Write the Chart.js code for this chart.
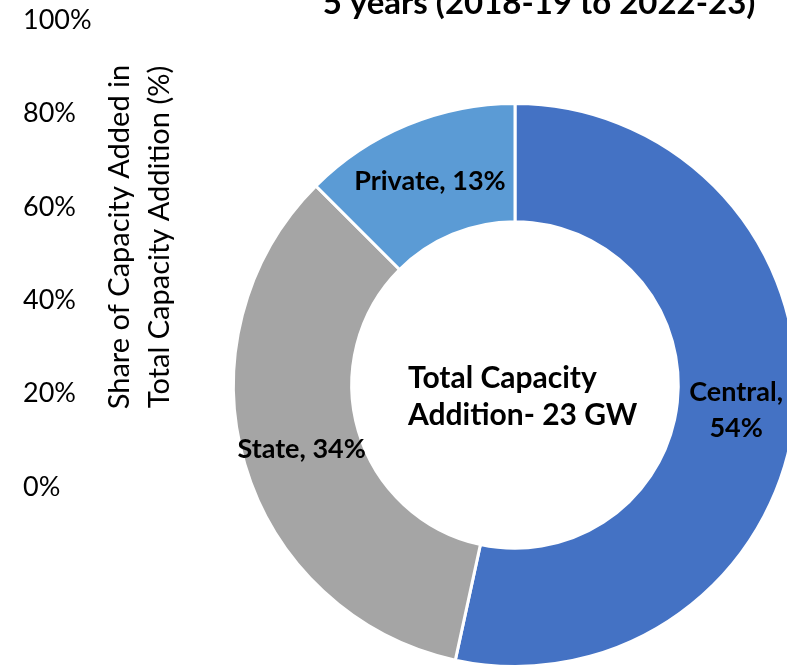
<!DOCTYPE html>
<html>
<head>
<meta charset="utf-8">
<script src="https://cdn.jsdelivr.net/npm/chart.js@4.4.1/dist/chart.umd.min.js"></script>
<style>
  html, body { margin: 0; padding: 0; background: #ffffff; overflow: hidden; width: 787px; height: 667px; }
  #wrap { position: relative; width: 787px; height: 667px; overflow: hidden; }
  canvas { position: absolute; left: 0; top: 0; }
</style>
</head>
<body>
<div id="wrap">
  <canvas id="donut" width="820" height="700"></canvas>
  <canvas id="axis" width="200" height="667"></canvas>
</div>
<script>
// ---- data ----
const categories = ['Central', 'State', 'Private'];
const shareValues = [53.4, 34.1, 12.5];          // share of capacity (%)
const shareLabels = ['54%', '34%', '13%'];       // labels printed on the slices
const tickLabels = ['0%', '20%', '40%', '60%', '80%', '100%'];
const axisTitleLines = ['Share of Capacity Added in', 'Total Capacity Addition (%)'];
const centerLines = ['Total Capacity', 'Addition- 23 GW'];
const titleText = '5 years (2018-19 to 2022-23)';
const sliceColors = ['#4472C4', '#A5A5A5', '#5B9BD5'];

const FONT = 'Lato, "Open Sans", sans-serif';

// ---- left axis (scale only) ----
new Chart(document.getElementById('axis'), {
  type: 'bar',
  data: { labels: [], datasets: [] },
  options: {
    responsive: false,
    animation: false,
    layout: { padding: { left: 23, top: 20, bottom: 180, right: 0 } },
    plugins: { legend: { display: false }, tooltip: { enabled: false } },
    scales: {
      x: { display: false },
      y: {
        position: 'left',
        min: 0, max: 100,
        ticks: {
          stepSize: 20,
          crossAlign: 'far',
          padding: 0,
          color: '#000',
          font: { family: FONT, size: 27 },
          callback: (v, i) => tickLabels[i]
        },
        grid: { display: false, drawTicks: false },
        border: { display: false }
      }
    }
  }
});

// ---- text plugin for the doughnut ----
const textPlugin = {
  id: 'texts',
  afterDraw(chart) {
    const ctx = chart.ctx;
    ctx.save();
    ctx.fillStyle = '#000';
    // title (top, cropped)
    ctx.font = 'bold 33px ' + FONT;
    ctx.textAlign = 'center';
    ctx.textBaseline = 'alphabetic';
    ctx.fillText(titleText, 539, 14);

    // rotated axis title
    ctx.font = '29px ' + FONT;
    ctx.textAlign = 'center';
    ctx.textBaseline = 'middle';
    const xs = [120, 160];
    axisTitleLines.forEach((t, i) => {
      ctx.save();
      ctx.translate(xs[i], 237);
      ctx.rotate(-Math.PI / 2);
      ctx.fillText(t, 0, 0);
      ctx.restore();
    });

    // center text
    ctx.font = 'bold 30px ' + FONT;
    ctx.textAlign = 'left';
    ctx.textBaseline = 'middle';
    ctx.fillText(centerLines[0], 408, 378);
    ctx.fillText(centerLines[1], 408, 415);

    // slice labels
    const meta = chart.getDatasetMeta(0);
    ctx.font = 'bold 27px ' + FONT;
    ctx.textAlign = 'center';
    ctx.textBaseline = 'middle';
    meta.data.forEach((arc, i) => {
      const p = arc.tooltipPosition();
      const lines = (categories[i] === 'Central')
        ? [categories[i] + ',', shareLabels[i]]
        : [categories[i] + ', ' + shareLabels[i]];
      const lh = 36;
      const y0 = p.y - (lines.length - 1) * lh / 2;
      lines.forEach((l, k) => ctx.fillText(l, p.x, y0 + k * lh + 2));
    });
    ctx.restore();
  }
};

new Chart(document.getElementById('donut'), {
  type: 'doughnut',
  data: {
    labels: categories,
    datasets: [{
      data: shareValues,
      backgroundColor: sliceColors,
      borderColor: '#ffffff',
      borderWidth: 3
    }]
  },
  options: {
    responsive: false,
    animation: false,
    cutout: '58%',
    layout: { padding: { left: 232, top: 102, right: 22, bottom: 32 } },
    plugins: { legend: { display: false }, tooltip: { enabled: false } }
  },
  plugins: [textPlugin]
});
</script>
</body>
</html>
